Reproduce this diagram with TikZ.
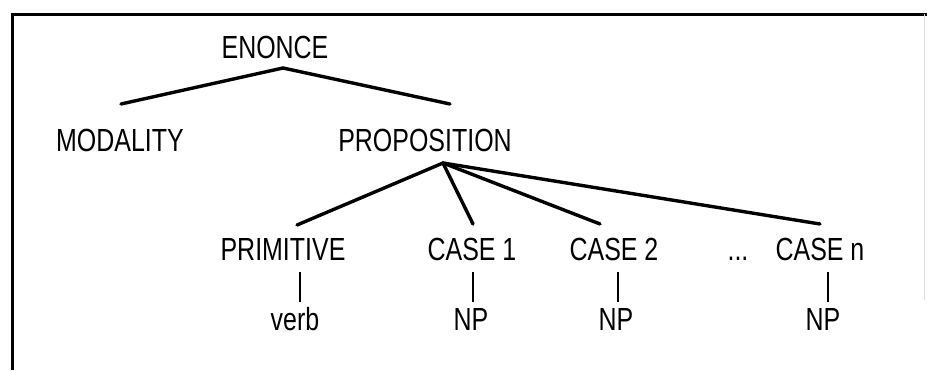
\documentclass[tikz,border=0pt]{standalone}
\usepackage{fontspec}
\setmainfont{Liberation Sans}[FakeStretch=0.78]
\begin{document}
\begin{tikzpicture}[x=1pt,y=-1pt,
  lbl/.style={anchor=base,inner sep=0pt,font=\fontsize{32}{36}\selectfont},
  edge/.style={line width=3.4pt,line cap=round},
  tick/.style={line width=2.6pt},
  frame/.style={line width=3pt}]
\useasboundingbox (0,0) rectangle (927,370);
\fill[white] (0,0) rectangle (927,370);
% frame
\coordinate (ftl) at (12,14);
\coordinate (ftr) at (927,14);
\coordinate (fbl) at (12,370);
\coordinate (rt) at (924,14);
\coordinate (rb) at (924,300);
\draw[frame] (fbl) -- (ftl) -- (ftr);
\draw[gray!25,line width=1pt] (rt) -- (rb);
% nodes
\node[lbl] (en) at (275,58) {ENONCE};
\node[lbl] (mod) at (120,151) {MODALITY};
\node[lbl] (prop) at (425,151) {PROPOSITION};
\node[lbl] (prim) at (283,260) {PRIMITIVE};
\node[lbl] (c1) at (472,260) {CASE 1};
\node[lbl] (c2) at (614,260) {CASE 2};
\node[lbl] (dots) at (738,260) {...};
\node[lbl] (cn) at (820,260) {CASE n};
\node[lbl] (vb) at (295,330) {verb};
\node[lbl] (np1) at (471,330) {NP};
\node[lbl] (np2) at (616,330) {NP};
\node[lbl] (npn) at (823,330) {NP};
% edges
\coordinate (ea) at ([xshift=8pt,yshift=-10pt]en.base);
\draw[edge] (ea) -- ([xshift=1pt,yshift=47pt]mod.base);
\draw[edge] (ea) -- ([xshift=25pt,yshift=47pt]prop.base);
\coordinate (pa) at ([xshift=18pt,yshift=-12pt]prop.base);
\draw[edge] (pa) -- ([xshift=14pt,yshift=35pt]prim.base);
\draw[edge] (pa) -- ([xshift=1pt,yshift=36pt]c1.base);
\draw[edge] (pa) -- ([xshift=-14pt,yshift=36pt]c2.base);
\draw[edge] (pa) -- ([xshift=0pt,yshift=36pt]cn.base);
% ticks
\draw[tick] ([xshift=5pt,yshift=-12pt]prim.base -| vb.base) -- ([xshift=5pt,yshift=28pt]vb.base);
\draw[tick] ([xshift=2pt,yshift=-12pt]c1.base -| np1.base) -- ([xshift=2pt,yshift=28pt]np1.base);
\draw[tick] ([xshift=2pt,yshift=-12pt]c2.base -| np2.base) -- ([xshift=2pt,yshift=28pt]np2.base);
\draw[tick] ([xshift=5pt,yshift=-12pt]cn.base -| npn.base) -- ([xshift=5pt,yshift=28pt]npn.base);
\end{tikzpicture}
\end{document}
